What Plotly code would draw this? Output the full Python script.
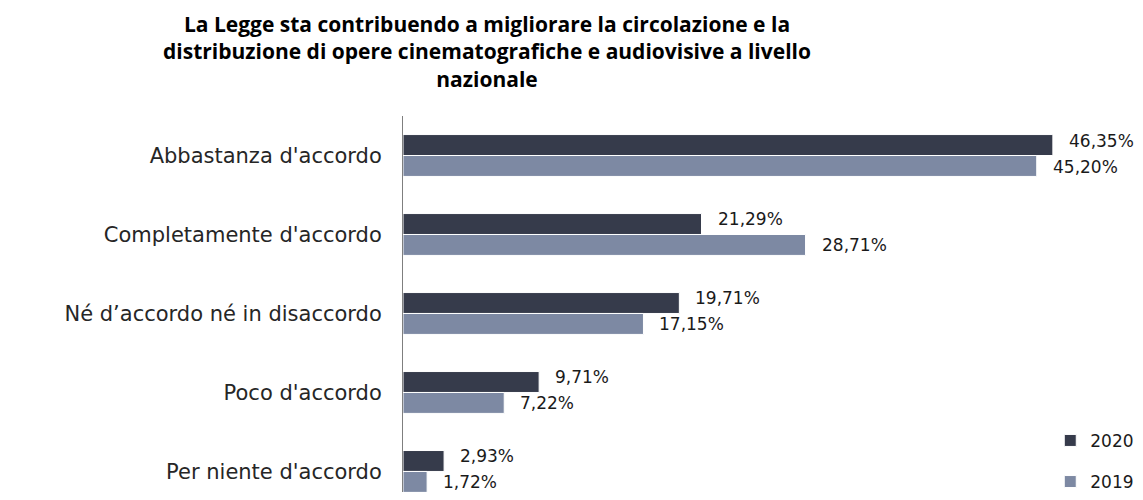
import plotly.graph_objects as go

categories = ["Abbastanza d'accordo", "Completamente d'accordo", "Né d’accordo né in disaccordo",
              "Poco d'accordo", "Per niente d'accordo"]
values_2020 = [46.35, 21.29, 19.71, 9.71, 2.93]
values_2019 = [45.20, 28.71, 17.15, 7.22, 1.72]
labels_2020 = ["46,35%", "21,29%", "19,71%", "9,71%", "2,93%"]
labels_2019 = ["45,20%", "28,71%", "17,15%", "7,22%", "1,72%"]

dark = "#363b4b"
light = "#7d89a3"
font_lab = "DejaVu Sans"

fig = go.Figure()
fig.add_trace(go.Bar(y=categories, x=values_2020, name="2020", orientation="h", legendgroup="a",
                     marker=dict(color=dark, line=dict(color="white", width=1))))
fig.add_trace(go.Bar(y=categories, x=values_2019, name="2019", orientation="h", legendgroup="b",
                     marker=dict(color=light, line=dict(color="white", width=1))))

# value labels next to the bar ends
for cat, v, t in zip(categories, values_2020, labels_2020):
    fig.add_annotation(x=v, y=cat, text=t, showarrow=False, xanchor="left",
                       xshift=14, yshift=15, font=dict(family=font_lab, size=17, color="#1a1a1a"))
for cat, v, t in zip(categories, values_2019, labels_2019):
    fig.add_annotation(x=v, y=cat, text=t, showarrow=False, xanchor="left",
                       xshift=14, yshift=-11, font=dict(family=font_lab, size=17, color="#1a1a1a"))

# title
fig.add_annotation(text="<b>La Legge sta contribuendo a migliorare la circolazione e la<br>"
                        "distribuzione di opere cinematografiche e audiovisive a livello<br>nazionale</b>",
                   xref="paper", yref="paper", x=0.125, y=1.287, xanchor="center", yanchor="top",
                   showarrow=False, align="center",
                   font=dict(family="Open Sans", size=21, color="black"))

fig.update_layout(
    width=1135, height=484,
    margin=dict(l=395, r=67, t=108, b=0, autoexpand=False),
    paper_bgcolor="white", plot_bgcolor="white",
    barmode="group", bargap=0.47, bargroupgap=0,
    xaxis=dict(range=[0, 48], showgrid=False, showticklabels=False, zeroline=False, showline=False),
    yaxis=dict(range=[4.26, -0.5], showline=True, linecolor="#7f7f7f", linewidth=1,
               ticks="", ticklabelstandoff=16, automargin=False,
               tickfont=dict(family=font_lab, size=21, color="#262626")),
    legend=dict(x=1.094, xanchor="right", y=-0.021, yanchor="bottom", traceorder="grouped",
                font=dict(family=font_lab, size=17, color="#1a1a1a"), itemwidth=30, tracegroupgap=16),
    showlegend=True,
)

fig.write_html("out.html")
